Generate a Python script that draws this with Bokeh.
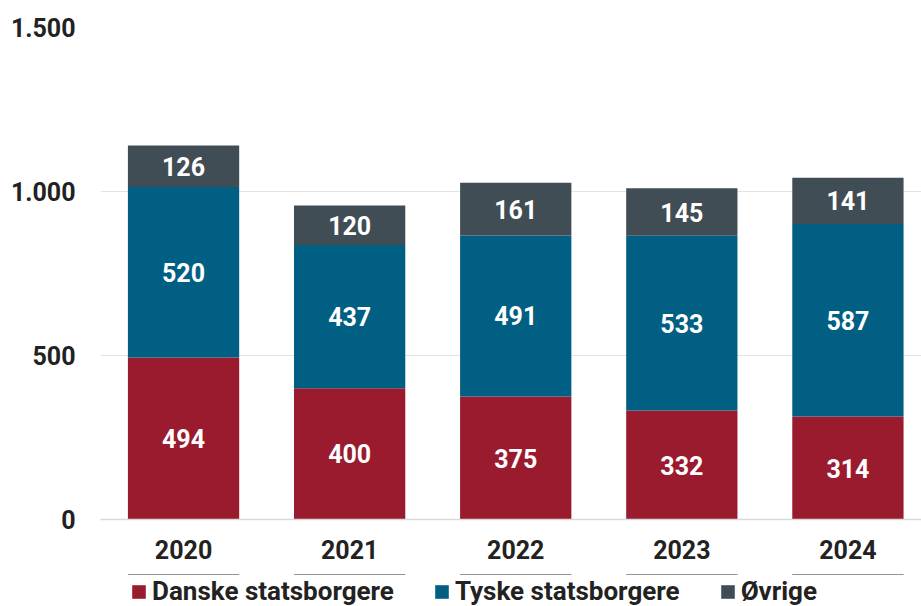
from bokeh.plotting import figure
from bokeh.layouts import column
from bokeh.models import ColumnDataSource, FixedTicker, Legend, LegendItem, Range1d, LabelSet
from bokeh.core.properties import value
from bokeh.embed import file_html
from bokeh.resources import INLINE

years = ["2020", "2021", "2022", "2023", "2024"]
danske = [494, 400, 375, 332, 314]
tyske = [520, 437, 491, 533, 587]
ovrige = [126, 120, 161, 145, 141]
series_names = ["Danske statsborgere", "Tyske statsborgere", "Øvrige"]
colors = ["#9B1B2E", "#005F83", "#414D55"]
y_ticks = [0, 500, 1000, 1500]
y_tick_labels = ["0", "500", "1.000", "1.500"]

FONT = "Roboto"
TXT = "#222222"
FS = "25px"

xs = list(range(len(years)))
src = ColumnDataSource(dict(x=xs, danske=danske, tyske=tyske, ovrige=ovrige))

p = figure(width=921, height=574, output_backend="svg", toolbar_location=None,
           x_range=Range1d(-0.5, 4.443), y_range=Range1d(0, 1500),
           min_border_left=100, min_border_right=0, min_border_top=27, min_border_bottom=55)
p.outline_line_color = None
p.background_fill_color = "white"
p.border_fill_color = "white"

renderers = p.vbar_stack(["danske", "tyske", "ovrige"], x="x", width=0.67, color=colors,
                         line_color=None, source=src)

# value labels
cum = [0] * len(years)
for vals in (danske, tyske, ovrige):
    mids = [c + v / 2 for c, v in zip(cum, vals)]
    cum = [c + v for c, v in zip(cum, vals)]
    ls = ColumnDataSource(dict(x=xs, y=mids, t=[str(v) for v in vals]))
    lab = LabelSet(x="x", y="y", text="t", source=ls, text_color="white",
                   text_font=value(FONT), text_font_style="bold", text_font_size=FS,
                   text_align="center", text_baseline="middle")
    p.add_layout(lab)

p.xaxis.ticker = FixedTicker(ticks=xs)
p.xaxis.major_label_overrides = {i: y for i, y in enumerate(years)}
p.xaxis.major_tick_line_color = None
p.xaxis.minor_tick_line_color = None
p.xaxis.major_tick_out = 0
p.xaxis.axis_line_color = "#d9d9d9"
p.xaxis.axis_line_width = 1.5
p.xaxis.major_label_text_font = FONT
p.xaxis.major_label_text_font_style = "bold"
p.xaxis.major_label_text_font_size = FS
p.xaxis.major_label_text_color = TXT
p.xaxis.major_label_standoff = 20

p.yaxis.ticker = FixedTicker(ticks=y_ticks)
p.yaxis.major_label_overrides = {t: l for t, l in zip(y_ticks, y_tick_labels)}
p.yaxis.major_tick_line_color = None
p.yaxis.minor_tick_line_color = None
p.yaxis.major_tick_out = 0
p.yaxis.axis_line_color = None
p.yaxis.major_label_text_font = FONT
p.yaxis.major_label_text_font_style = "bold"
p.yaxis.major_label_text_font_size = FS
p.yaxis.major_label_text_color = TXT
p.yaxis.major_label_standoff = 25

p.xgrid.grid_line_color = None
p.ygrid.grid_line_color = "#e3e3e3"
p.ygrid.grid_line_width = 1

# legend strip (its own bars sit far outside its visible range; only the legend shows)
lg = figure(width=921, height=32, output_backend="svg", toolbar_location=None,
            x_range=Range1d(-0.5, 4.443), y_range=Range1d(-3000, -2000),
            x_axis_type=None, y_axis_type=None,
            min_border_left=100, min_border_right=0, min_border_top=0, min_border_bottom=0)
lg.outline_line_color = None
lg.border_fill_color = "white"
lg.xgrid.grid_line_color = None
lg.ygrid.grid_line_color = None
proxies = lg.vbar_stack(["danske", "tyske", "ovrige"], x="x", width=0.67, color=colors,
                        line_color=None, source=src)
items = [LegendItem(label=n, renderers=[r]) for n, r in zip(series_names, proxies)]
legend = Legend(items=items, orientation="horizontal", location=(30, 0),
                glyph_width=17, glyph_height=17, label_standoff=5, spacing=39,
                label_text_font=FONT, label_text_font_style="bold",
                label_text_font_size="26px", label_text_color=TXT,
                border_line_color=None, background_fill_alpha=0,
                padding=0, margin=0, label_height=24)
lg.add_layout(legend, "center")

layout = column(p, lg, spacing=0)
open("out.html", "w").write(file_html(layout, INLINE))
